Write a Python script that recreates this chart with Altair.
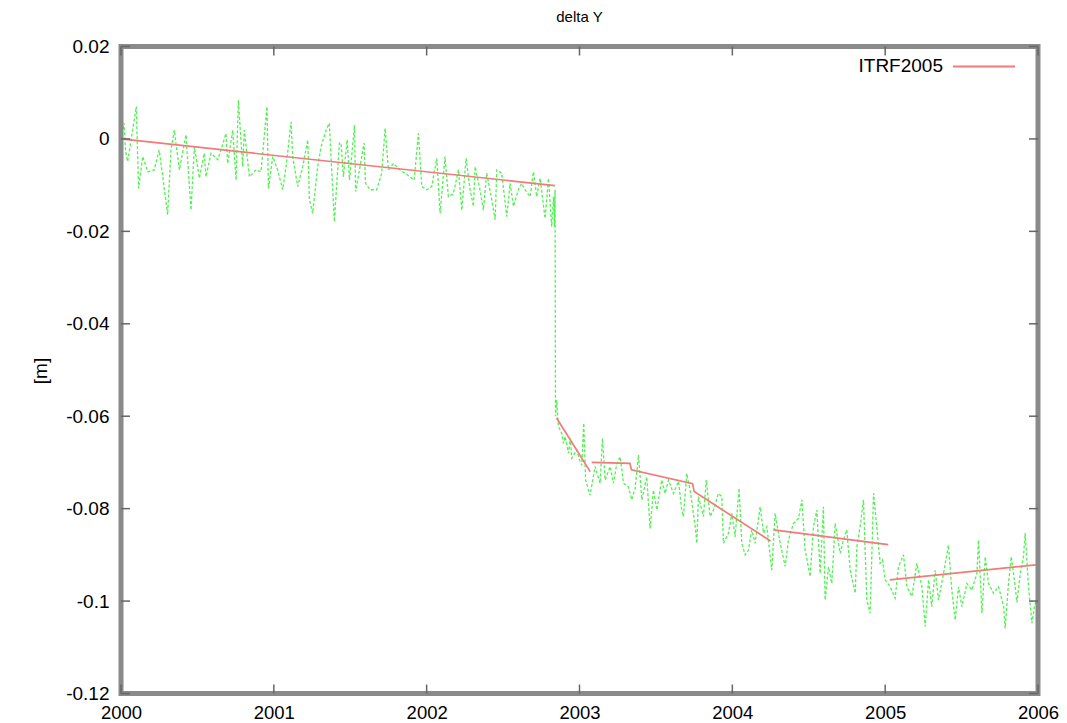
import altair as alt
import pandas as pd

# ---- observed daily solution (green) ----
obs_year = [
    2000.000, 2000.020, 2000.030, 2000.044, 2000.100, 2000.115, 2000.142, 2000.175, 2000.218, 2000.250,
    2000.270, 2000.305, 2000.327, 2000.349, 2000.382, 2000.425, 2000.458, 2000.480, 2000.513, 2000.545,
    2000.556, 2000.589, 2000.633, 2000.654, 2000.687, 2000.698, 2000.731, 2000.753, 2000.768, 2000.796,
    2000.807, 2000.840, 2000.884, 2000.916, 2000.955, 2000.965, 2000.993, 2001.025, 2001.058, 2001.080,
    2001.113, 2001.123, 2001.156, 2001.189, 2001.222, 2001.233, 2001.254, 2001.287, 2001.309, 2001.342,
    2001.363, 2001.396, 2001.429,
    2001.440, 2001.455, 2001.480, 2001.495, 2001.528, 2001.535, 2001.564, 2001.590, 2001.600, 2001.630,
    2001.673, 2001.706, 2001.728, 2001.750, 2001.782, 2001.826, 2001.891, 2001.918, 2001.946, 2001.968,
    2002.000, 2002.033, 2002.066, 2002.088, 2002.120, 2002.142, 2002.175, 2002.208, 2002.230, 2002.258,
    2002.284, 2002.306, 2002.317, 2002.349, 2002.371, 2002.393, 2002.426, 2002.448, 2002.459, 2002.491,
    2002.524, 2002.546, 2002.568, 2002.600, 2002.622, 2002.644, 2002.677, 2002.699, 2002.720, 2002.742,
    2002.775, 2002.797, 2002.818, 2002.830, 2002.836, 2002.840, 2002.843, 2002.850,
    2002.862, 2002.884, 2002.895, 2002.906, 2002.928, 2002.940, 2002.949, 2002.982, 2003.000, 2003.015,
    2003.028, 2003.040, 2003.069, 2003.102, 2003.135, 2003.150, 2003.168, 2003.200, 2003.222, 2003.244,
    2003.266, 2003.288, 2003.320, 2003.342, 2003.364, 2003.386, 2003.408, 2003.440, 2003.462, 2003.484,
    2003.506, 2003.538, 2003.560, 2003.582, 2003.615, 2003.648, 2003.669, 2003.680, 2003.702, 2003.724,
    2003.757, 2003.768, 2003.778, 2003.811, 2003.829, 2003.855, 2003.877, 2003.909, 2003.931, 2003.942,
    2003.975, 2003.997, 2004.018, 2004.044, 2004.062, 2004.084, 2004.106, 2004.127, 2004.149, 2004.182,
    2004.204, 2004.226, 2004.258, 2004.280, 2004.313, 2004.346, 2004.367, 2004.400, 2004.433,
    2004.455, 2004.476, 2004.509, 2004.531, 2004.553, 2004.575, 2004.596, 2004.607, 2004.629, 2004.651,
    2004.673, 2004.706, 2004.727, 2004.749, 2004.771, 2004.804, 2004.815, 2004.836, 2004.858, 2004.880,
    2004.902, 2004.924, 2004.945, 2004.967, 2004.983, 2005.000, 2005.033, 2005.065, 2005.087, 2005.120,
    2005.142, 2005.175, 2005.207, 2005.240, 2005.262, 2005.284, 2005.305, 2005.327, 2005.349, 2005.382,
    2005.414, 2005.436, 2005.458, 2005.480, 2005.502, 2005.535, 2005.567, 2005.600, 2005.611, 2005.633,
    2005.655, 2005.676, 2005.709, 2005.742, 2005.775, 2005.785, 2005.807, 2005.825, 2005.851, 2005.862,
    2005.884, 2005.905, 2005.916, 2005.938, 2005.960, 2005.977, 2005.995,
]
obs_dy = [
    0.0000, 0.0034, -0.0027, -0.0049, 0.0070, -0.0107, -0.0038, -0.0071, -0.0067, -0.0024,
    -0.0074, -0.0164, -0.0024, 0.0019, -0.0067, 0.0009, -0.0154, -0.0017, -0.0085, -0.0031,
    -0.0082, -0.0031, -0.0045, -0.0024, 0.0012, -0.0053, 0.0019, -0.0089, 0.0084, -0.0060,
    0.0019, -0.0082, -0.0067, -0.0071, 0.0070, -0.0107, -0.0038, -0.0067, -0.0110, -0.0060,
    0.0037, -0.0038, -0.0103, -0.0060, -0.0002, -0.0132, -0.0161, -0.0060, -0.0017, 0.0019,
    0.0034, -0.0179, -0.0009,
    -0.0009, -0.0082, -0.0002, -0.0089, 0.0030, -0.0114, -0.0060, -0.0009, -0.0096, -0.0110,
    -0.0110, -0.0074, 0.0023, -0.0067, -0.0053, -0.0067, -0.0082, -0.0089, 0.0012, -0.0103,
    -0.0110, -0.0103, -0.0042, -0.0161, -0.0038, -0.0125, -0.0118, -0.0067, -0.0154, -0.0042,
    -0.0110, -0.0146, -0.0060, -0.0110, -0.0154, -0.0074, -0.0132, -0.0175, -0.0067, -0.0074,
    -0.0168, -0.0096, -0.0146, -0.0110, -0.0096, -0.0110, -0.0125, -0.0071, -0.0125, -0.0085,
    -0.0172, -0.0085, -0.0190, -0.0125, -0.0190, -0.0110, -0.0600, -0.0565,
    -0.0622, -0.0637, -0.0659, -0.0644, -0.0680, -0.0648, -0.0691, -0.0673, -0.0695, -0.0706,
    -0.0615, -0.0738, -0.0771, -0.0709, -0.0745, -0.0648, -0.0738, -0.0709, -0.0745, -0.0702,
    -0.0688, -0.0745, -0.0753, -0.0781, -0.0756, -0.0684, -0.0781, -0.0731, -0.0843, -0.0760,
    -0.0803, -0.0738, -0.0767, -0.0738, -0.0767, -0.0741, -0.0803, -0.0817, -0.0724, -0.0760,
    -0.0839, -0.0875, -0.0774, -0.0817, -0.0738, -0.0817, -0.0803, -0.0767, -0.0774, -0.0875,
    -0.0853, -0.0810, -0.0861, -0.0756, -0.0875, -0.0900, -0.0889, -0.0846, -0.0875, -0.0796,
    -0.0853, -0.0839, -0.0933, -0.0810, -0.0875, -0.0925, -0.0868, -0.0832, -0.0821,
    -0.0781, -0.0889, -0.0947, -0.0839, -0.0803, -0.0940, -0.0796, -0.0998, -0.0926, -0.0962,
    -0.0832, -0.0897, -0.0868, -0.0846, -0.0933, -0.0983, -0.0882, -0.0839, -0.0781, -0.0998,
    -0.1026, -0.0767, -0.0839, -0.0918, -0.0911, -0.0954, -0.0969, -0.0994, -0.0926, -0.0900,
    -0.0969, -0.0990, -0.0918, -0.0969, -0.1055, -0.0954, -0.1012, -0.0933, -0.0998, -0.0940,
    -0.0879, -0.0976, -0.1041, -0.0969, -0.1012, -0.0962, -0.0976, -0.0940, -0.0868, -0.1026,
    -0.0904, -0.0962, -0.0983, -0.0969, -0.1012, -0.1059, -0.0962, -0.0904, -0.0969, -0.1003,
    -0.0940, -0.0904, -0.0853, -0.0969, -0.1048, -0.1012, -0.0990,
]

# ---- ITRF2005 model (red), piecewise segments ----
model_year = [2000.00, 2002.84,
              2002.85, 2003.07,
              2003.08, 2003.33, 2003.34, 2003.74, 2003.75, 2004.25,
              2004.27, 2005.02,
              2005.03, 2006.00]
model_dy = [0.0000, -0.0101,
            -0.0604, -0.0720,
            -0.0700, -0.0702, -0.0716, -0.0746, -0.0763, -0.0870,
            -0.0846, -0.0878,
            -0.0954, -0.0921]
model_seg = [1, 1, 2, 2, 3, 3, 3, 3, 3, 3, 4, 4, 5, 5]

x_ticks = [2000, 2001, 2002, 2003, 2004, 2005, 2006]
y_ticks = [0.02, 0.0, -0.02, -0.04, -0.06, -0.08, -0.10, -0.12]
legend_label = ["ITRF2005"]

W, H = 917, 647
GREEN = "#33ee33"
RED = "#f27a7a"

obs = pd.DataFrame({"year": obs_year, "dy": obs_dy})
model = pd.DataFrame({"year": model_year, "dy": model_dy, "seg": model_seg})

xs = alt.Scale(domain=[2000, 2006], nice=False, zero=False)
ys = alt.Scale(domain=[-0.12, 0.02], nice=False, zero=False)

x_axis = alt.Axis(values=x_ticks, format="d", title=None, domain=False, ticks=False,
                  grid=False, labelFontSize=18.5, labelColor="black", labelPadding=10,
                  labelFont="Liberation Sans", labelFlush=False, labelOverlap=False)
y_axis = alt.Axis(values=y_ticks, title="[m]", domain=False, ticks=False, grid=False,
                  labelFontSize=19, labelColor="black", labelPadding=12,
                  labelFont="Liberation Sans", labelFlush=False, labelOverlap=False,
                  labelExpr="replace(format(datum.value, '~g'), '\u2212', '-')",
                  titleFontSize=19, titleFontWeight="normal", titleColor="black",
                  titleFont="Liberation Sans", titleX=-81, titleY=324, titleAngle=-90,
                  titleAlign="center", titleBaseline="middle")

green = alt.Chart(obs).mark_line(color=GREEN, strokeWidth=1.3, strokeDash=[3, 2],
                                 opacity=0.85).encode(
    x=alt.X("year:Q", scale=xs, axis=x_axis),
    y=alt.Y("dy:Q", scale=ys, axis=y_axis),
    order="year:Q",
)

red = alt.Chart(model).mark_line(color=RED, strokeWidth=1.7).encode(
    x=alt.X("year:Q", scale=xs),
    y=alt.Y("dy:Q", scale=ys),
    detail="seg:N",
    order="year:Q",
)

xt = pd.DataFrame({"year": x_ticks})
yt = pd.DataFrame({"dy": y_ticks})
tick_style = dict(color="#666666", strokeWidth=1.5)
tick_top = alt.Chart(xt).mark_rule(**tick_style).encode(
    x=alt.X("year:Q", scale=xs), y=alt.value(0), y2=alt.value(9))
tick_bot = alt.Chart(xt).mark_rule(**tick_style).encode(
    x=alt.X("year:Q", scale=xs), y=alt.value(H), y2=alt.value(H - 9))
tick_left = alt.Chart(yt).mark_rule(**tick_style).encode(
    y=alt.Y("dy:Q", scale=ys), x=alt.value(0), x2=alt.value(9))
tick_right = alt.Chart(yt).mark_rule(**tick_style).encode(
    y=alt.Y("dy:Q", scale=ys), x=alt.value(W), x2=alt.value(W - 9))

frame = alt.Chart(pd.DataFrame({"f": [0]})).mark_rect(
    filled=False, stroke="#8a8a8a", strokeWidth=5).encode(
    x=alt.value(0), x2=alt.value(W), y=alt.value(0), y2=alt.value(H))

leg = pd.DataFrame({"label": legend_label})
leg_text = alt.Chart(leg).mark_text(align="right", baseline="middle", fontSize=19,
                                    font="Liberation Sans", color="black").encode(
    x=alt.value(822), y=alt.value(19), text="label:N")
leg_line = alt.Chart(leg).mark_rule(color=RED, strokeWidth=2).encode(
    x=alt.value(832), x2=alt.value(894), y=alt.value(20))

chart = alt.layer(
    green, red, frame, tick_top, tick_bot, tick_left, tick_right, leg_text, leg_line
).properties(
    width=W, height=H,
    title=alt.TitleParams("delta Y", fontSize=15, fontWeight="normal", color="black",
                          font="Liberation Sans", offset=13, anchor="middle"),
    autosize=alt.AutoSizeParams(type="none"),
    padding={"left": 113, "top": 38.5, "right": 21, "bottom": 29},
).configure_view(
    stroke=None
).configure(background="white")

chart.save("out.html", embed_options={"renderer": "svg", "actions": False})
